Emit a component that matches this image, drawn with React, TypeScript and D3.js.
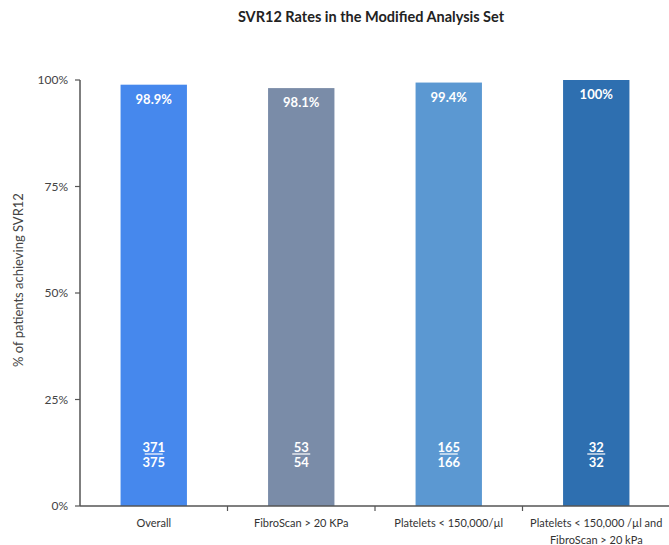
import React from "react";
import * as d3 from "d3";

const categories = ["Overall", "FibroScan > 20 KPa", "Platelets < 150,000/µl", "Platelets < 150,000 /µl and|FibroScan > 20 kPa"];
const rates = [98.9, 98.1, 99.4, 100];
const rateLabels = ["98.9%", "98.1%", "99.4%", "100%"];
const numerators = [371, 53, 165, 32];
const denominators = [375, 54, 166, 32];
const colors = ["#4688ED", "#7A8CA8", "#5B98D2", "#2E6FB0"];
const yTicks = [0, 25, 50, 75, 100];

const W = 669, H = 545;
const margin = { left: 80, right: -1, top: 80, bottom: 39 };
const FONT = "Lato, 'Open Sans', sans-serif";

export default function App() {
  const x = d3.scaleBand<number>().domain(d3.range(categories.length)).range([margin.left, W - margin.right]).paddingInner(0).paddingOuter(0);
  const y = d3.scaleLinear().domain([0, 100]).range([H - margin.bottom, margin.top]);
  const bw = x.bandwidth() * 0.45;
  const y0 = y(0);
  return (
    <svg width={W} height={H} style={{ position: "absolute", left: 0, top: 0, background: "#fff" }} fontFamily={FONT}>
      <text x={371} y={22} textAnchor="middle" fontSize={14.5} fontWeight="bold" fill="#222">SVR12 Rates in the Modified Analysis Set</text>
      {categories.map((c, i) => {
        const cx = x(i)! + x.bandwidth() / 2;
        return (
          <g key={i}>
            <rect x={cx - bw / 2} y={y(rates[i])} width={bw} height={y0 - y(rates[i])} fill={colors[i]} />
            <text x={cx} y={y(rates[i]) + 19} textAnchor="middle" fontSize={13} fontWeight="bold" fill="#fff">{rateLabels[i]}</text>
            <text x={cx} y={452} textAnchor="middle" fontSize={13} fontWeight="bold" fill="#fff">{numerators[i]}</text>
            <line x1={cx - 9} x2={cx + 9} y1={454} y2={454} stroke="#fff" strokeWidth={1.2} />
            <text x={cx} y={467} textAnchor="middle" fontSize={13} fontWeight="bold" fill="#fff">{denominators[i]}</text>
            {c.split("|").map((line, k) => (
              <text key={k} x={cx} y={527 + k * 17} textAnchor="middle" fontSize={11} fill="#333">{line}</text>
            ))}
          </g>
        );
      })}
      <line x1={margin.left} x2={margin.left} y1={y(100)} y2={y0} stroke="#555" strokeWidth={1.5} />
      <line x1={margin.left} x2={W} y1={y0} y2={y0} stroke="#555" strokeWidth={1.5} />
      {yTicks.map((t) => (
        <g key={t}>
          <line x1={margin.left - 5} x2={margin.left} y1={y(t)} y2={y(t)} stroke="#555" strokeWidth={1.2} />
          <text x={margin.left - 12} y={y(t) + 4} textAnchor="end" fontSize={12} fill="#444">{t}%</text>
        </g>
      ))}
      {d3.range(1, categories.length).map((i) => {
        const bx = x(i)!;
        return <line key={i} x1={bx} x2={bx} y1={y0} y2={y0 + 5} stroke="#555" strokeWidth={1.2} />;
      })}
      <text transform={`translate(23,280) rotate(-90)`} textAnchor="middle" fontSize={13} fill="#444">% of patients achieving SVR12</text>
    </svg>
  );
}
